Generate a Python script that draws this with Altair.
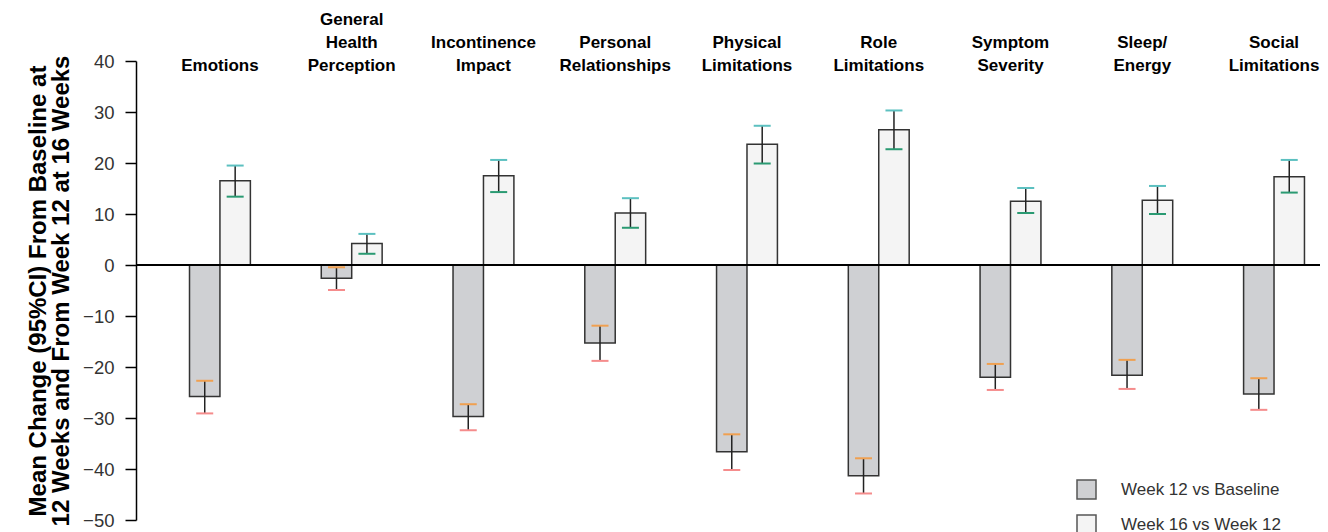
import altair as alt
import pandas as pd

categories = ["Emotions", "General Health Perception", "Incontinence Impact",
              "Personal Relationships", "Physical Limitations", "Role Limitations",
              "Symptom Severity", "Sleep/ Energy", "Social Limitations"]
header_lines = ["Emotions", "General|Health|Perception", "Incontinence|Impact",
                "Personal|Relationships", "Physical|Limitations", "Role|Limitations",
                "Symptom|Severity", "Sleep/|Energy", "Social|Limitations"]
series = ["Week 12 vs Baseline", "Week 16 vs Week 12"]

w12_mean = [-25.8, -2.6, -29.7, -15.3, -36.6, -41.3, -22.0, -21.6, -25.3]
w12_upper = [-22.7, -0.45, -27.3, -11.9, -33.2, -37.9, -19.4, -18.6, -22.2]
w12_lower = [-29.1, -4.9, -32.4, -18.8, -40.2, -44.8, -24.5, -24.3, -28.4]
w16_mean = [16.5, 4.2, 17.5, 10.2, 23.7, 26.5, 12.5, 12.7, 17.3]
w16_upper = [19.5, 6.1, 20.6, 13.1, 27.3, 30.3, 15.1, 15.5, 20.6]
w16_lower = [13.4, 2.2, 14.3, 7.3, 19.9, 22.7, 10.2, 10.0, 14.2]

fill_colors = ["#cfd0d3", "#f4f4f4"]
cap_keys = ["w12_hi", "w12_lo", "w16_hi", "w16_lo"]
cap_colors = ["#f0a050", "#f58c8c", "#5cc0c0", "#2a9a72"]

rows = []
for i, c in enumerate(categories):
    rows.append(dict(category=c, series=series[0], mean=w12_mean[i], lo=w12_lower[i], hi=w12_upper[i]))
    rows.append(dict(category=c, series=series[1], mean=w16_mean[i], lo=w16_lower[i], hi=w16_upper[i]))
df = pd.DataFrame(rows)

caps = []
for i, c in enumerate(categories):
    caps.append(dict(category=c, series=series[0], val=w12_upper[i], cap=cap_keys[0]))
    caps.append(dict(category=c, series=series[0], val=w12_lower[i], cap=cap_keys[1]))
    caps.append(dict(category=c, series=series[1], val=w16_upper[i], cap=cap_keys[2]))
    caps.append(dict(category=c, series=series[1], val=w16_lower[i], cap=cap_keys[3]))
caps_df = pd.DataFrame(caps)

hdr_df = pd.DataFrame(dict(category=categories, header=header_lines))

FONT = "Liberation Sans"

x_enc = alt.X("category:N", sort=categories, axis=None,
              scale=alt.Scale(paddingInner=0.538, paddingOuter=0.262, align=0.775))
xoff = alt.XOffset("series:N", sort=series, scale=alt.Scale(paddingInner=0, paddingOuter=0))
y_scale = alt.Scale(domain=[-50, 40], nice=False, zero=False)

bars = alt.Chart(df).mark_bar(stroke="#333333", strokeWidth=1.5).encode(
    x=x_enc,
    xOffset=xoff,
    y=alt.Y("mean:Q", scale=y_scale,
            axis=alt.Axis(values=list(range(-50, 41, 10)), tickSize=11, tickColor="black",
                          tickWidth=1.5, domainColor="black", domainWidth=1.5, grid=False,
                          labelFontSize=18.5, labelColor="#333333", labelFont=FONT, labelPadding=11,
                          title=["Mean Change (95%CI) From Baseline at",
                                 "12 Weeks and From Week 12 at 16 Weeks"],
                          titleFont=FONT, titleFontSize=24, titleFontWeight="bold",
                          titleColor="black", titleLineHeight=23, titlePadding=9)),
    fill=alt.Fill("series:N", sort=series,
                  scale=alt.Scale(domain=series, range=fill_colors),
                  legend=alt.Legend(title=None, orient="none", legendX=940, legendY=418,
                                    symbolType="square", symbolSize=361,
                                    symbolStrokeColor="#555555", symbolStrokeWidth=1.5,
                                    labelFontSize=17, labelFont=FONT, labelColor="#333333",
                                    labelOffset=24, labelLimit=400, rowPadding=10, padding=0)),
)

zero = alt.Chart(df).mark_rule(color="black", strokeWidth=1.5).encode(y=alt.datum(0))

err = alt.Chart(df).mark_rule(color="#222222", strokeWidth=1.5).encode(
    x=x_enc, xOffset=xoff,
    y=alt.Y("lo:Q", scale=y_scale), y2="hi:Q",
)

cap_marks = alt.Chart(caps_df).mark_tick(size=17, thickness=2, opacity=1).encode(
    x=x_enc, xOffset=xoff,
    y=alt.Y("val:Q", scale=y_scale),
    color=alt.Color("cap:N", scale=alt.Scale(domain=cap_keys, range=cap_colors), legend=None),
)

hdr_base = alt.Chart(hdr_df).transform_calculate(
    lines="split(datum.header, '|')"
).transform_calculate(
    nlines="length(datum.lines)"
)


def header_layer(n, ypix):
    return hdr_base.transform_filter(f"datum.nlines == {n}").mark_text(
        font=FONT, fontSize=17, fontWeight="bold", color="black",
        baseline="bottom", lineHeight=23, align="center").encode(
        x=x_enc, y=alt.value(ypix), text="lines:N")


headers = [header_layer(3, -32), header_layer(2, -9), header_layer(1, 14)]

chart = alt.layer(bars, zero, err, cap_marks, *headers).properties(
    width=1184, height=459,
    autosize=alt.AutoSizeParams(type="none"),
    padding={"left": 128, "top": 53, "right": 0, "bottom": 20},
).resolve_scale(color="independent").configure_view(stroke=None)

chart.save("out.html", embed_options={"renderer": "svg", "actions": False})
